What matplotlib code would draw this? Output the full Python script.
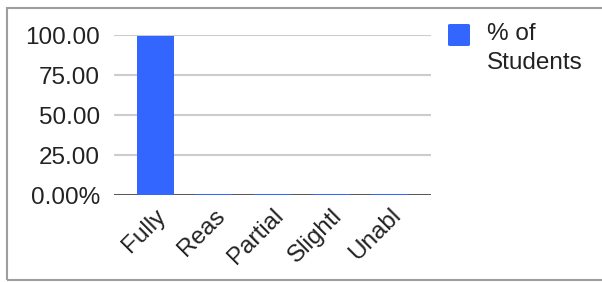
import matplotlib.pyplot as plt
from matplotlib.patches import FancyBboxPatch, Rectangle
from matplotlib.ticker import FuncFormatter

categories = ["Fully", "Reas", "Partial", "Slightl", "Unabl"]
pct_students = [99.4, 0.7, 0.7, 0.7, 0.7]
y_ticks = [0, 25, 50, 75, 100]
series_label = "% of\nStudents"

BAR_COLOR = "#3366ff"
TEXT_COLOR = "#222222"
FONT_SIZE = 17.5

plt.rcParams["font.family"] = ["Liberation Sans", "DejaVu Sans"]

W, H = 602, 282
fig = plt.figure(figsize=(W / 100, H / 100), dpi=100)
fig.patch.set_facecolor("white")

# outer frame (right side runs off the image)
fig.patches.append(
    Rectangle((6.5 / W, 2 / H), 1.2, 272 / H, transform=fig.transFigure,
              fill=False, edgecolor="#9e9e9e", linewidth=1.5)
)

ax = fig.add_axes([114 / W, 87 / H, 317 / W, 160 / H])
x = range(len(categories))
ax.bar(x, pct_students, width=0.63, color=BAR_COLOR, zorder=3)

ax.set_xlim(-0.7, len(categories) - 0.3)
ax.set_ylim(0, 100)
ax.set_yticks(y_ticks)
ax.yaxis.set_major_formatter(
    FuncFormatter(lambda v, _: "0.00%" if v == 0 else f"{v:.2f}")
)
ax.grid(axis="y", color="#cccccc", linewidth=1.5, zorder=0)
ax.axhline(0, color="#333333", linewidth=1.8, zorder=2)

for side in ax.spines.values():
    side.set_visible(False)

ax.tick_params(axis="y", length=0, pad=10, labelsize=FONT_SIZE,
               colors=TEXT_COLOR)
ax.tick_params(axis="x", length=0, pad=7, labelsize=FONT_SIZE,
               colors=TEXT_COLOR)
ax.set_xticks(list(x))
ax.set_xticklabels(categories, rotation=45, ha="right", va="top",
                   rotation_mode="anchor")

# legend: square swatch + two-line label, aligned to the first line
fig.patches.append(
    FancyBboxPatch((448 / W, 1 - 46 / H), 22 / W, 22 / H,
                   boxstyle="round,pad=0,rounding_size=0.004",
                   transform=fig.transFigure, facecolor=BAR_COLOR,
                   edgecolor="none")
)
fig.text(487 / W, 1 - 23 / H, series_label, ha="left", va="top",
         fontsize=FONT_SIZE, color=TEXT_COLOR, linespacing=1.4)

fig.savefig("out.png", dpi=100)
